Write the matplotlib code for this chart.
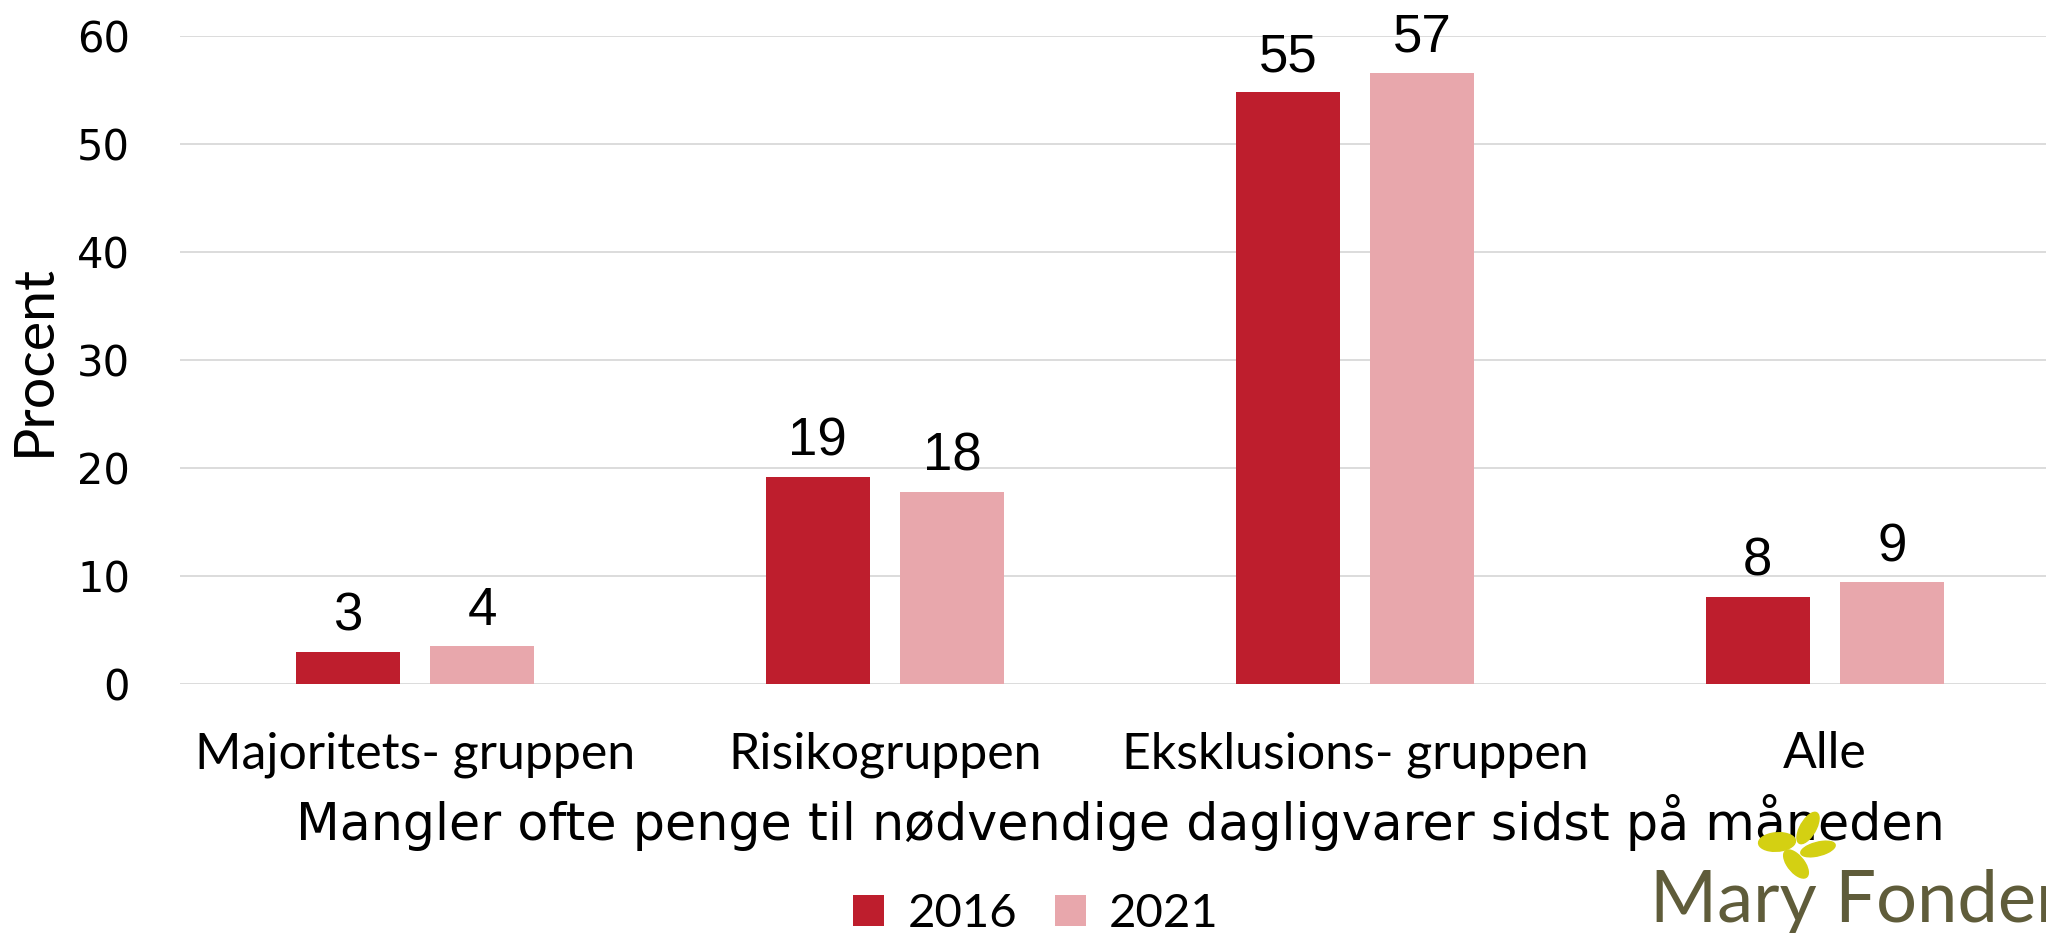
import numpy as np
import matplotlib
matplotlib.use('Agg')
from matplotlib import pyplot as plt
from matplotlib.patches import Ellipse

# data
groups = ['Majoritets- gruppen', 'Risikogruppen', 'Eksklusions- gruppen', 'Alle']
years = ['2016', '2021']
vals_2016 = [3.0, 19.2, 54.8, 8.1]
vals_2021 = [3.5, 17.8, 56.6, 9.4]
labels_2016 = ['3', '19', '55', '8']
labels_2021 = ['4', '18', '57', '9']
yticks = [0, 10, 20, 30, 40, 50, 60]

col_2016 = '#be1e2d'
col_2021 = '#e8a7ac'

W, H = 2046, 933
fig = plt.figure(figsize=(W / 100, H / 100), dpi=100)
# axes run a bit past the right edge, as in the original
ax = fig.add_axes([180 / W, 1 - 684 / H, 1880 / W, (684 - 36) / H])

x = np.arange(len(groups))
bw = 0.222
off = 0.143
b1 = ax.bar(x - off, vals_2016, bw, color=col_2016, label=years[0], zorder=3)
b2 = ax.bar(x + off, vals_2021, bw, color=col_2021, label=years[1], zorder=3)

for bars, labs in [(b1, labels_2016), (b2, labels_2021)]:
    for b, t in zip(bars, labs):
        ax.annotate(t, (b.get_x() + b.get_width() / 2, b.get_height()),
                    xytext=(0, 15), textcoords='offset points',
                    ha='center', va='baseline', fontsize=38,
                    family='Liberation Sans', clip_on=False)

ax.set_xlim(-0.5, 3.5)
ax.set_ylim(0, 60)
ax.set_yticks(yticks)
ax.set_xticks(x)
ax.set_xticklabels(groups, fontsize=36, family='Lato')
ax.tick_params(axis='x', length=0, pad=34)
ax.tick_params(axis='y', length=0, pad=36, labelsize=30)
ax.grid(axis='y', color='#d9d9d9', lw=1.3, zorder=0)
for s in ax.spines.values():
    s.set_visible(False)

ax.set_ylabel('Procent', fontsize=40, family='Lato', labelpad=12)
ax.set_xlabel('Mangler ofte penge til nødvendige dagligvarer sidst på måneden',
              fontsize=36.5, labelpad=12)

fig.legend(loc='center', bbox_to_anchor=(1036 / W, 1 - 914 / H), ncol=2,
           frameon=False, prop={'family': 'Lato', 'size': 34},
           handlelength=0.65, handleheight=0.65, handletextpad=0.5,
           columnspacing=0.8)

# Mary Fonden logo, bottom right
fig.text(1650 / W, 1 - 922 / H, 'Mary Fonden', fontsize=52, color='#5f5c3a',
         family='Lato', ha='left', va='baseline')
lc = '#d4d012'
for cx, cy, w, h, ang in [(1808, 828, 17, 32, -12), (1777, 842, 36, 19, -22),
                          (1818, 849, 25, 19, -45), (1796, 864, 19, 29, 15)]:
    fig.add_artist(Ellipse((cx / W, 1 - cy / H), w / W, h / H,
                           angle=ang, color=lc, transform=fig.transFigure))

fig.savefig('out.png', dpi=100)
